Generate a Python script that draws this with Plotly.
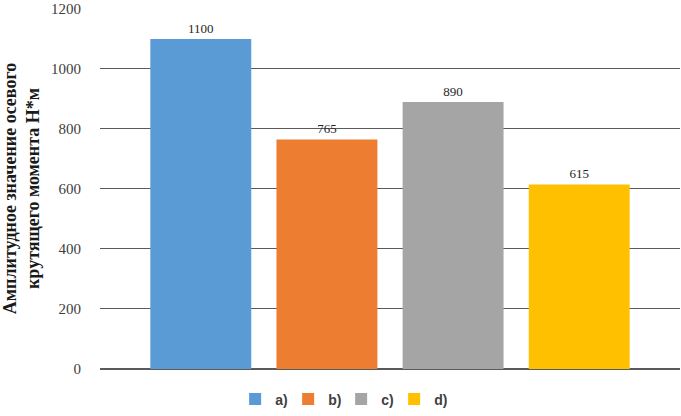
import plotly.graph_objects as go

series_names = ["a)", "b)", "c)", "d)"]
values = [1100, 765, 890, 615]
colors = ["#5B9BD5", "#ED7D31", "#A5A5A5", "#FFC000"]
y_ticks = [0, 200, 400, 600, 800, 1000, 1200]

fig = go.Figure()

for name, val, col in zip(series_names, values, colors):
    fig.add_trace(go.Bar(
        x=[""],
        y=[val],
        name=name,
        marker_color=col,
        marker_line_width=0,
        text=[str(val)],
        textposition="outside",
        textfont=dict(family="Liberation Serif", size=13, color="#262626"),
        cliponaxis=False,
    ))

fig.update_layout(
    width=681,
    height=416,
    margin=dict(l=100, r=1, t=8, b=39),
    plot_bgcolor="white",
    paper_bgcolor="white",
    barmode="group",
    bargap=0.13,
    bargroupgap=0.2,
    showlegend=True,
    legend=dict(
        orientation="h",
        x=0.233,
        xanchor="left",
        y=-0.04,
        yanchor="top",
        font=dict(family="Liberation Sans", size=14, color="#404040", weight="bold"),
        itemwidth=30,
        entrywidth=8,
        entrywidthmode="pixels",
    ),
    xaxis=dict(showticklabels=False, showgrid=False, zeroline=False, showline=False,
               automargin=False),
    yaxis=dict(
        range=[0, 1203],
        tickvals=y_ticks,
        automargin=False,
        showgrid=True,
        gridcolor="#5a5a5a",
        gridwidth=1,
        zeroline=True,
        zerolinecolor="#5a5a5a",
        tickfont=dict(family="Liberation Serif", size=15, color="#404040"),
        ticks="",
        ticklabelstandoff=18,
        title=dict(
            text="Амплитудное значение осевого<br>крутящего момента Н*м",
            font=dict(family="Liberation Serif", size=18, color="#1a1a1a", weight="bold"),
            standoff=10,
        ),
    ),
)

# page body has a default 8px margin; drop it so the chart sits at the window corner
fig.write_html("out.html", config={"displayModeBar": False},
               post_script="document.body.style.margin='0';")
